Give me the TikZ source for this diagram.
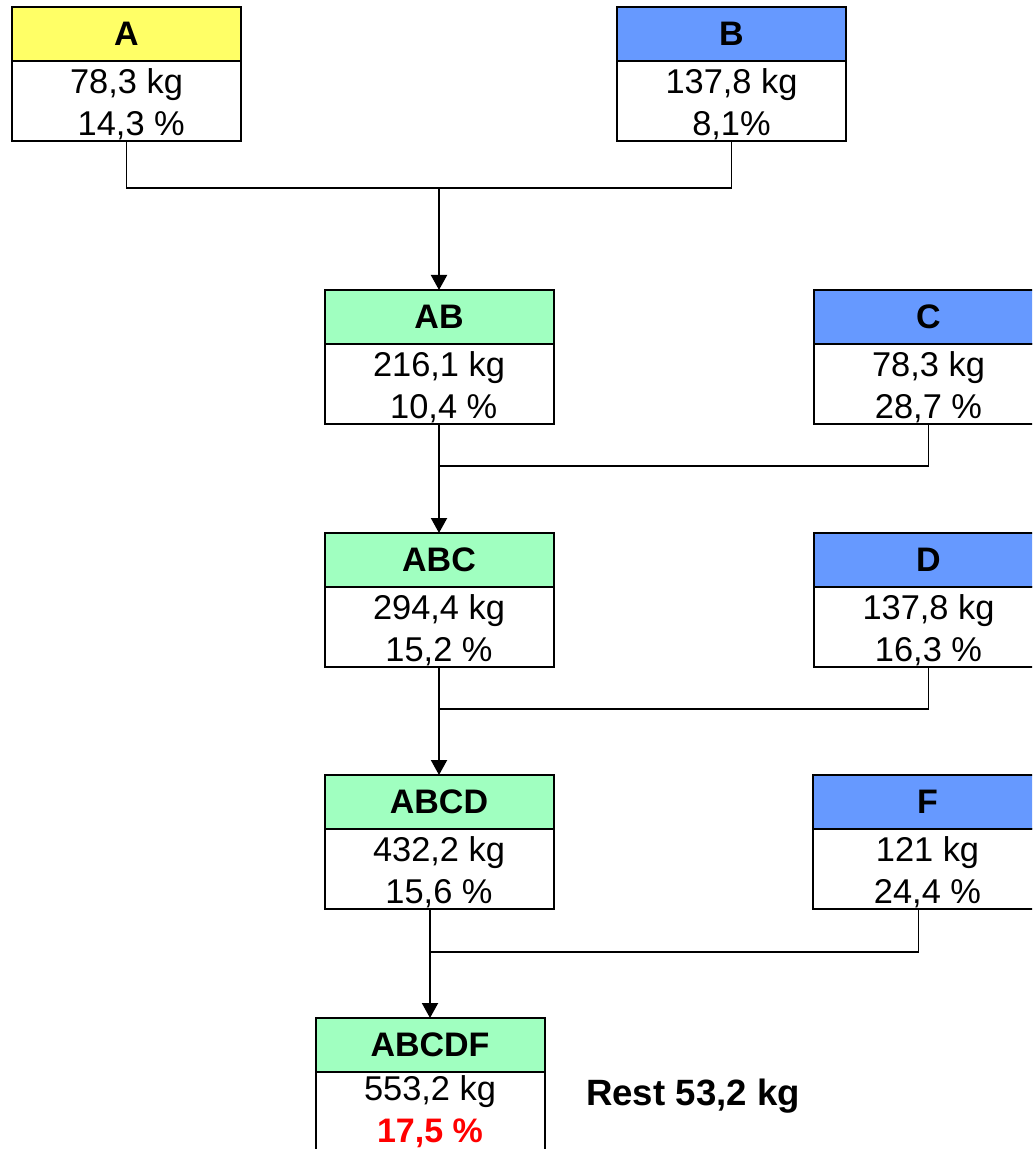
\documentclass[tikz,border=0pt]{standalone}
\usepackage{fontspec}
\setmainfont{Liberation Sans}
\usetikzlibrary{positioning,arrows.meta}
\definecolor{hdyellow}{RGB}{255,255,102}
\definecolor{hdblue}{RGB}{102,153,255}
\definecolor{hdgreen}{RGB}{160,255,192}
\newcommand\vs{\rule{0pt}{16pt}}

\begin{document}
\begin{tikzpicture}[x=0.5pt,y=-0.5pt,
    head/.style={draw,line width=1pt,minimum width=114.5pt,minimum height=27pt,
      inner sep=0pt,outer sep=0pt,font=\fontsize{17}{20}\selectfont\bfseries},
    val/.style={draw,fill=white,line width=1pt,minimum width=114.5pt,minimum height=40pt,
      inner sep=0pt,outer sep=0pt,align=center,font=\fontsize{17.2}{21}\selectfont,
      below=0pt of #1},
    link/.style={line width=0.7pt},
    feed/.style={line width=1pt,-{Triangle[width=8pt,length=7.5pt]}}]
      \useasboundingbox (0,0) rectangle (1032,1149);
      \clip (0,0) rectangle (1032,1149);
      % inputs and mixtures
      \node[head,fill=hdyellow] (A) at (126.5,34) {A};
      \node[val=A] (A-v) {\vs 78,3 kg\\~14,3 \%};
      \node[head,fill=hdblue] (B) at (731.5,34) {B};
      \node[val=B] (B-v) {\vs 137,8 kg\\8,1\%};
      \node[head,fill=hdgreen] (AB) at (439,317) {AB};
      \node[val=AB] (AB-v) {\vs 216,1 kg\\~10,4 \%};
      \node[head,fill=hdblue] (C) at (928.5,317) {C};
      \node[val=C] (C-v) {\vs 78,3 kg\\28,7 \%};
      \node[head,fill=hdgreen] (ABC) at (439,560) {ABC};
      \node[val=ABC] (ABC-v) {\vs 294,4 kg\\15,2 \%};
      \node[head,fill=hdblue] (D) at (928.5,560) {D};
      \node[val=D] (D-v) {\vs 137,8 kg\\16,3 \%};
      \node[head,fill=hdgreen] (ABCD) at (439,802) {ABCD};
      \node[val=ABCD] (ABCD-v) {\vs 432,2 kg\\15,6 \%};
      \node[head,fill=hdblue] (F) at (927.5,802) {F};
      \node[val=F] (F-v) {\vs 121 kg\\24,4 \%};
      \node[head,fill=hdgreen] (ABCDF) at (430,1045) {ABCDF};
      \node[val=ABCDF] (ABCDF-v) {553,2 kg\\\textcolor{red}{\fontsize{17}{21}\selectfont\bfseries 17,5 \%}};
      \node[font=\fontsize{18.3}{20}\selectfont\bfseries] (rest) at (693,1096) {Rest 53,2 kg};
      % joins
      \coordinate (AB-j) at (439,188);
      \coordinate (ABC-j) at (439,466);
      \coordinate (ABCD-j) at (439,709);
      \coordinate (ABCDF-j) at (430,952);
      \draw[link] (A-v.south) |- (AB-j) -| (B-v.south);
      \draw[feed] (AB-j) -- (AB.north);
      \draw[link] (C-v.south) |- (ABC-j);
      \draw[feed] (AB-v.south) -- (ABC.north);
      \draw[link] (D-v.south) |- (ABCD-j);
      \draw[feed] (ABC-v.south) -- (ABCD.north);
      \draw[link] ([xshift=-4.5pt]F-v.south) |- (ABCDF-j);
      \draw[feed] (ABCDF.north |- ABCD-v.south) -- (ABCDF.north);
    \end{tikzpicture}
\end{document}
